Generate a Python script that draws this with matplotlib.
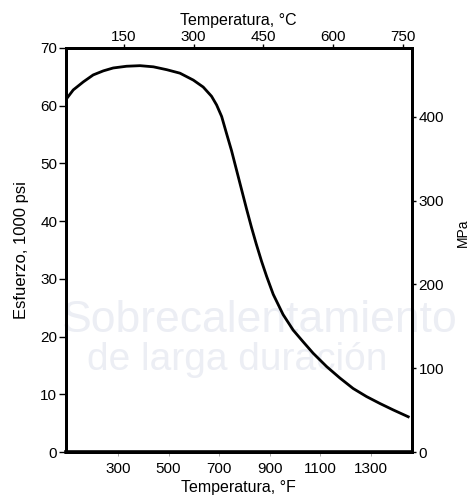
import matplotlib

matplotlib.use("Agg")
import matplotlib.pyplot as plt

plt.rcParams["font.family"] = ["Liberation Sans", "DejaVu Sans"]

# Curve: temperature (°F) vs stress (1000 psi)
temp_f = [97, 123, 163, 202, 242, 281, 334, 387, 440, 493, 545, 598, 637,
          670, 690, 710, 729, 749, 769, 789, 809, 828, 847, 868, 888, 914,
          953, 993, 1032, 1072, 1125, 1178, 1230, 1283, 1336, 1388, 1448]
stress_ksi = [61.2, 62.7, 64.1, 65.3, 66.0, 66.5, 66.8, 66.9, 66.7, 66.2,
              65.6, 64.4, 63.2, 61.6, 60.1, 58.1, 55.2, 52.2, 48.8, 45.4,
              42.0, 38.9, 36.0, 33.0, 30.4, 27.3, 23.8, 21.1, 19.1, 17.1,
              14.8, 12.8, 11.0, 9.6, 8.4, 7.3, 6.1]

f_ticks = [300, 500, 700, 900, 1100, 1300]
c_ticks = [150, 300, 450, 600, 750]
ksi_ticks = [0, 10, 20, 30, 40, 50, 60, 70]
mpa_ticks = [0, 100, 200, 300, 400]

F_LIM = (93, 1462)
C_LIM = (25, 769)
KSI_LIM = (0, 70)
MPA_LIM = (0, 70 * 6.895)

fig = plt.figure(figsize=(4.69, 4.96), dpi=100)
ax = fig.add_axes([0.140, 0.0887, 0.738, 0.815])
ax.patch.set_alpha(0)

# faint watermark of the scanned page
wm = dict(color="#eceef4", ha="left", va="baseline", zorder=-5)
fig.text(0.132, 0.331, "Sobrecalentamiento", fontsize=32, **wm)
fig.text(0.185, 0.254, "de larga duración", fontsize=28, **wm)

ax.plot(temp_f, stress_ksi, color="black", lw=2.0, solid_joinstyle="round")
ax.set_xlim(*F_LIM)
ax.set_ylim(*KSI_LIM)
ax.set_xticks(f_ticks)
ax.set_yticks(ksi_ticks)
ax.set_xlabel("Temperatura, °F", fontsize=11.5, labelpad=3)
ax.set_ylabel("Esfuerzo, 1000 psi", fontsize=12, labelpad=8)
ax.tick_params(axis="y", labelsize=11, length=5, width=1, pad=1)
ax.tick_params(axis="x", labelsize=11, length=3, width=0.6, color="#999999", pad=4)

for side in ["left", "right", "top", "bottom"]:
    ax.spines[side].set_linewidth(2.0)
ax.spines["bottom"].set_linewidth(2.6)

# top axis in °C
axc = ax.twiny()
axc.set_xlim(*C_LIM)
axc.set_xticks(c_ticks)
axc.tick_params(axis="x", labelsize=11, length=3, width=1, pad=0)
axc.set_xlabel("Temperatura, °C", fontsize=11.5, labelpad=3)

# right axis in MPa
axm = ax.twinx()
axm.set_ylim(*MPA_LIM)
axm.set_yticks(mpa_ticks)
axm.tick_params(axis="y", labelsize=11, length=3, width=1, pad=2)
axm.set_ylabel("MPa", fontsize=10)
axm.yaxis.set_label_coords(1.128, 0.542)

for a in (axc, axm):
    for side in ["left", "right", "top", "bottom"]:
        a.spines[side].set_linewidth(2.0)

fig.savefig("out.png", dpi=100)
